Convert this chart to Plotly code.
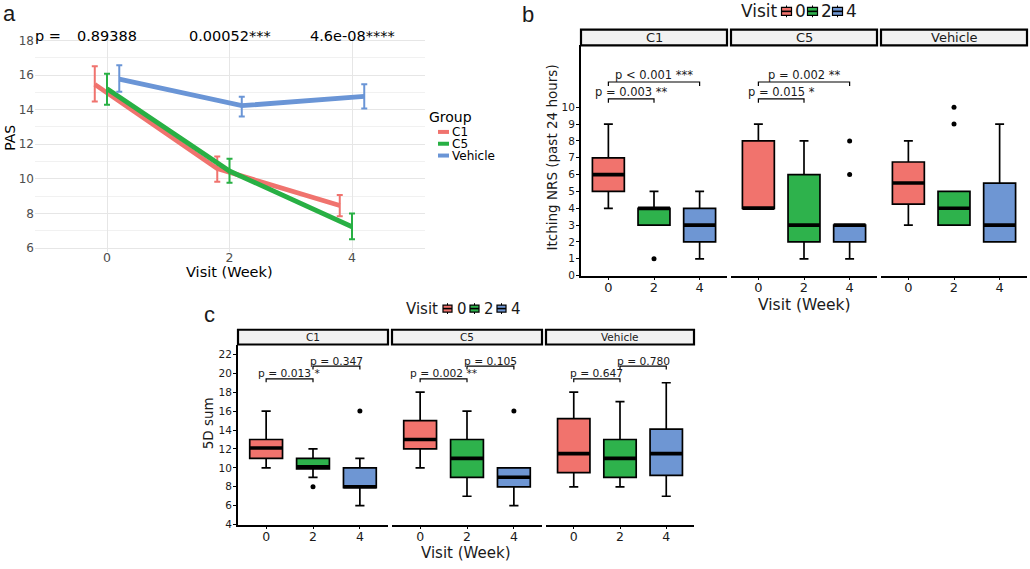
import plotly.graph_objects as go

W, H = 1030, 569
def fx(p):
    return p / W
def fy(p):
    return 1 - p / H

FONT = "DejaVu Sans"
BLACK = "#1A1A1A"

# ---------------- Panel a data (PAS, mean with error bars) ----------------
weeks = [0, 2, 4]
week_labels = ["0", "2", "4"]
groups = ["C1", "C5", "Vehicle"]
group_colors = ["#F0736E", "#28B044", "#6A95D6"]
group_dodge = [-0.2, 0.0, 0.2]
pas_mean_c1 = [15.46, 10.59, 8.46]
pas_low_c1 = [14.47, 9.83, 7.84]
pas_high_c1 = [16.5, 11.29, 9.07]
pas_mean_c5 = [15.2, 10.45, 7.23]
pas_low_c5 = [14.28, 9.77, 6.51]
pas_high_c5 = [16.07, 11.16, 8.0]
pas_mean_veh = [15.76, 14.23, 14.76]
pas_low_veh = [15.04, 13.6, 14.06]
pas_high_veh = [16.56, 14.74, 15.46]
pas_pvalues = ["0.89388", "0.00052***", "4.6e-08****"]
pas_yticks = [6, 8, 10, 12, 14, 16, 18]

# ---------------- Panel b data (Itching NRS boxplots) ----------------
facets = ["C1", "C5", "Vehicle"]
visit_colors = ["#F1736D", "#2EB24C", "#6E96D3"]
nrs_q1 = [[5, 3, 2], [4, 2, 2], [4.25, 3, 2]]
nrs_median = [[6, 4, 3], [4, 3, 3], [5.5, 4, 3]]
nrs_q3 = [[7, 4, 4], [8, 6, 3], [6.75, 5, 5.5]]
nrs_lower = [[4, 3, 1], [4, 1, 1], [3, 3, 2]]
nrs_upper = [[9, 5, 5], [9, 8, 3], [8, 5, 9]]
nrs_out_facet = [0, 1, 1, 2, 2]
nrs_out_visit = [1, 2, 2, 1, 1]
nrs_out_value = [1, 6, 8, 9, 10]
nrs_br_facet = [0, 0, 1, 1]
nrs_br_from = [0, 0, 0, 0]
nrs_br_to = [1, 2, 1, 2]
nrs_br_y = [10.5, 11.5, 10.5, 11.5]
nrs_br_label = ["p = 0.003 **", "p < 0.001 ***", "p = 0.015 *", "p = 0.002 **"]
nrs_yticks = [0, 1, 2, 3, 4, 5, 6, 7, 8, 9, 10]

# ---------------- Panel c data (5D sum boxplots) ----------------
sum_q1 = [[11, 9.9, 7.9], [12, 9, 8], [9.5, 9, 9.2]]
sum_median = [[12.1, 10.1, 8], [13, 11, 9], [11.5, 11, 11.5]]
sum_q3 = [[13, 11, 10], [15, 13, 10], [15.2, 13, 14.1]]
sum_lower = [[10, 9, 6], [10, 7, 6], [8, 8, 7]]
sum_upper = [[16, 12, 11], [18, 16, 10], [18, 17, 19]]
sum_out_facet = [0, 0, 1]
sum_out_visit = [1, 2, 2]
sum_out_value = [8, 16, 16]
sum_br_facet = [0, 0, 1, 1, 2, 2]
sum_br_from = [0, 1, 0, 1, 0, 1]
sum_br_to = [1, 2, 1, 2, 1, 2]
sum_br_y = [19.4, 20.75, 19.4, 20.75, 19.4, 20.75]
sum_br_label = ["p = 0.013 *", "p = 0.347", "p = 0.002 **", "p = 0.105", "p = 0.647", "p = 0.780"]
sum_yticks = [4, 6, 8, 10, 12, 14, 16, 18, 20, 22]

BOX_W = 0.7

fig = go.Figure()

# ---------------- Panel a traces ----------------
pas_means = [pas_mean_c1, pas_mean_c5, pas_mean_veh]
pas_lows = [pas_low_c1, pas_low_c5, pas_low_veh]
pas_highs = [pas_high_c1, pas_high_c5, pas_high_veh]
for g in range(3):
    m, lo, hi = pas_means[g], pas_lows[g], pas_highs[g]
    fig.add_trace(go.Scatter(
        x=[w + group_dodge[g] for w in weeks], y=m, mode="lines",
        line=dict(color=group_colors[g], width=4.8),
        error_y=dict(type="data", symmetric=False,
                     array=[h - v for h, v in zip(hi, m)],
                     arrayminus=[v - l for v, l in zip(m, lo)],
                     color=group_colors[g], thickness=2, width=3),
        xaxis="x", yaxis="y", showlegend=False, hoverinfo="skip"))

annotations = []
shapes = []

annotations.append(dict(text="p =", x=-0.96, y=fy(33.3), xref="x", yref="paper",
                        xanchor="center", yanchor="middle",
                        showarrow=False, font=dict(family=FONT, size=14.5, color="black")))
for w, p in zip(weeks, pas_pvalues):
    annotations.append(dict(text=p, x=w, y=fy(33.3), xref="x", yref="paper",
                            xanchor="center", yanchor="middle",
                            showarrow=False, font=dict(family=FONT, size=14.5, color="black")))

# ---------------- Box panels ----------------
def add_box_panel(xaxes, yaxis, q1, med, q3, lo, hi, of, ov, oval,
                  bf, bfrom, bto, by, blabel, tip, tshift, tsize):
    for f, xa in enumerate(xaxes):
        for v in range(3):
            fig.add_trace(go.Box(
                x=[v], q1=[q1[f][v]], median=[med[f][v]], q3=[q3[f][v]],
                lowerfence=[lo[f][v]], upperfence=[hi[f][v]],
                xaxis=xa, yaxis=yaxis, fillcolor=visit_colors[v],
                line=dict(color="black", width=1.7), width=BOX_W, whiskerwidth=0.28,
                boxpoints=False, showlegend=False, hoverinfo="skip"))
            fig.add_trace(go.Scatter(
                x=[v - BOX_W / 2, v + BOX_W / 2], y=[med[f][v], med[f][v]], mode="lines",
                line=dict(color="black", width=3.6), xaxis=xa, yaxis=yaxis,
                showlegend=False, hoverinfo="skip"))
        pts = [k for k in range(len(of)) if of[k] == f]
        if pts:
            fig.add_trace(go.Scatter(
                x=[ov[k] for k in pts], y=[oval[k] for k in pts], mode="markers",
                marker=dict(color="black", size=5), xaxis=xa, yaxis=yaxis,
                showlegend=False, hoverinfo="skip"))
    for k in range(len(bf)):
        xa = xaxes[bf[k]]
        a, b, yv = bfrom[k], bto[k], by[k]
        fig.add_trace(go.Scatter(
            x=[a, a, b, b], y=[yv - tip, yv, yv, yv - tip], mode="lines",
            line=dict(color="black", width=1.2), xaxis=xa, yaxis=yaxis,
            showlegend=False, hoverinfo="skip"))
        annotations.append(dict(text=blabel[k], x=(a + b) / 2, y=yv, xref=xa, yref=yaxis,
                                xanchor="center", yanchor="middle",
                                yshift=tshift, showarrow=False,
                                font=dict(family=FONT, size=tsize, color=BLACK)))

add_box_panel(["x2", "x3", "x4"], "y2", nrs_q1, nrs_median, nrs_q3, nrs_lower, nrs_upper,
              nrs_out_facet, nrs_out_visit, nrs_out_value,
              nrs_br_facet, nrs_br_from, nrs_br_to, nrs_br_y, nrs_br_label, 0.23, 7, 11.5)
add_box_panel(["x5", "x6", "x7"], "y3", sum_q1, sum_median, sum_q3, sum_lower, sum_upper,
              sum_out_facet, sum_out_visit, sum_out_value,
              sum_br_facet, sum_br_from, sum_br_to, sum_br_y, sum_br_label, 0.35, 5, 10.7)

# ---------------- Axes ----------------
grid_major = "#E6E6E6"
layout = dict(
    width=W, height=569, margin=dict(l=0, r=0, t=0, b=0),
    paper_bgcolor="white", plot_bgcolor="white", showlegend=False, boxmode="overlay",
    xaxis=dict(domain=[fx(35), fx(425)], range=[-1.176, 5.192], anchor="y",
               tickvals=weeks, ticktext=week_labels, showgrid=True, gridcolor=grid_major,
               gridwidth=1.3, zeroline=False, showline=False, ticks="",
               ticklabelstandoff=-3,
               tickfont=dict(family=FONT, size=12.5, color="#4D4D4D")),
    yaxis=dict(domain=[fy(252.5), fy(34.5)], range=[5.8, 18.2], anchor="x",
               tickvals=pas_yticks, showgrid=True, gridcolor=grid_major, gridwidth=1.3,
               minor=dict(dtick=1, tick0=0, showgrid=True, gridcolor="#F1F1F1", gridwidth=0.8),
               zeroline=False, showline=False, ticks="",
               tickfont=dict(family=FONT, size=12, color="#4D4D4D")),
)

def box_xaxis(dom, anchor, size):
    return dict(domain=dom, anchor=anchor, range=[-0.6, 2.6], tickvals=[0, 1, 2],
                ticktext=week_labels, showgrid=False, zeroline=False, showline=True,
                linecolor="black", linewidth=2, ticks="outside", ticklen=2, tickcolor="black",
                tickwidth=1, ticklabelstandoff=-3,
                tickfont=dict(family=FONT, size=size, color=BLACK))

def box_yaxis(dom, anchor, rng, tv, size):
    return dict(domain=dom, anchor=anchor, range=rng, tickvals=tv, showgrid=False,
                zeroline=False, showline=True, linecolor="black", linewidth=2,
                ticks="outside", ticklen=3, tickcolor="black", tickwidth=1,
                ticklabelstandoff=-1,
                tickfont=dict(family=FONT, size=size, color=BLACK))

b_panels = [(581, 727), (731, 877), (881, 1027)]
c_panels = [(238, 388), (392, 542), (546, 694)]
for i, (x0, x1) in enumerate(b_panels):
    layout["xaxis%d" % (i + 2)] = box_xaxis([fx(x0), fx(x1)], "y2", 13)
for i, (x0, x1) in enumerate(c_panels):
    layout["xaxis%d" % (i + 5)] = box_xaxis([fx(x0), fx(x1)], "y3", 12.5)
layout["yaxis2"] = box_yaxis([fy(277), fy(43)], "x2", [0, 13.68], nrs_yticks, 10.5)
layout["yaxis3"] = box_yaxis([fy(530), fy(347)], "x5", [4, 23.04], sum_yticks, 10.5)

# ---------------- Strips ----------------
def strips(panels, top, bottom, size):
    for (x0, x1), name in zip(panels, facets):
        shapes.append(dict(type="rect", xref="paper", yref="paper",
                           x0=fx(x0), x1=fx(x1), y0=fy(bottom), y1=fy(top),
                           fillcolor="#F2F2F2", line=dict(color="black", width=2.2)))
        annotations.append(dict(text=name, x=fx((x0 + x1) / 2), y=fy((top + bottom) / 2),
                                xref="paper", yref="paper", showarrow=False,
                                xanchor="center", yanchor="middle",
                                font=dict(family=FONT, size=size, color=BLACK)))
strips(b_panels, 27, 43, 13)
strips(c_panels, 332, 347, 10.5)

# ---------------- Titles / labels ----------------
def txt(t, x, y, size, angle=0, family=FONT, xanchor="center", color=BLACK):
    annotations.append(dict(text=t, x=fx(x), y=fy(y), xref="paper", yref="paper",
                            showarrow=False, textangle=angle, xanchor=xanchor,
                            yanchor="middle", font=dict(family=family, size=size, color=color)))

txt("a", 9, 11, 22, family="Liberation Sans")
txt("b", 528, 12, 22, family="Liberation Sans")
txt("c", 209, 317, 22, family="Liberation Sans")
txt("Visit (Week)", 229, 273, 14.5, color="black")
txt("PAS", 10, 137, 14, angle=-90, color="black")
txt("Visit (Week)", 804, 307, 15.5)
txt("Itching NRS (past 24 hours)", 552, 157, 13.5, angle=-90)
txt("Visit (Week)", 466, 559, 15)
txt("5D sum", 208, 427, 13.5, angle=-90)

# Legend a (Group)
txt("Group", 427, 116, 14, xanchor="left", color="black")
for g, yy in zip(range(3), [131, 143, 155]):
    shapes.append(dict(type="line", xref="paper", yref="paper", x0=fx(438), x1=fx(449),
                       y0=fy(yy), y1=fy(yy), line=dict(color=group_colors[g], width=4)))
    txt(groups[g], 450, yy, 12, xanchor="left", color="black")

# Legends b and c (Visit)
def visit_legend(title_right, yc, centers, text_left, size, w, h):
    txt("Visit", title_right, yc, size, xanchor="right")
    for v in range(3):
        cx = centers[v]
        shapes.append(dict(type="line", xref="paper", yref="paper", x0=fx(cx), x1=fx(cx),
                           y0=fy(yc - h / 2 - 2), y1=fy(yc + h / 2 + 2),
                           line=dict(color="black", width=1)))
        shapes.append(dict(type="rect", xref="paper", yref="paper",
                           x0=fx(cx - w / 2), x1=fx(cx + w / 2),
                           y0=fy(yc + h / 2), y1=fy(yc - h / 2),
                           fillcolor=visit_colors[v], line=dict(color="black", width=1.2)))
        shapes.append(dict(type="line", xref="paper", yref="paper",
                           x0=fx(cx - w / 2), x1=fx(cx + w / 2), y0=fy(yc), y1=fy(yc),
                           line=dict(color="black", width=1.6)))
        txt(week_labels[v], text_left[v], yc, size, xanchor="left")

visit_legend(780, 8.5, [786.5, 812.5, 837.5], [793, 819, 844], 17, 10, 8)
visit_legend(440, 310.5, [447.5, 474.5, 501.5], [455, 482, 509], 15, 9, 7)

layout["shapes"] = shapes
layout["annotations"] = annotations
fig.update_layout(**layout)
fig.write_html("out.html")
